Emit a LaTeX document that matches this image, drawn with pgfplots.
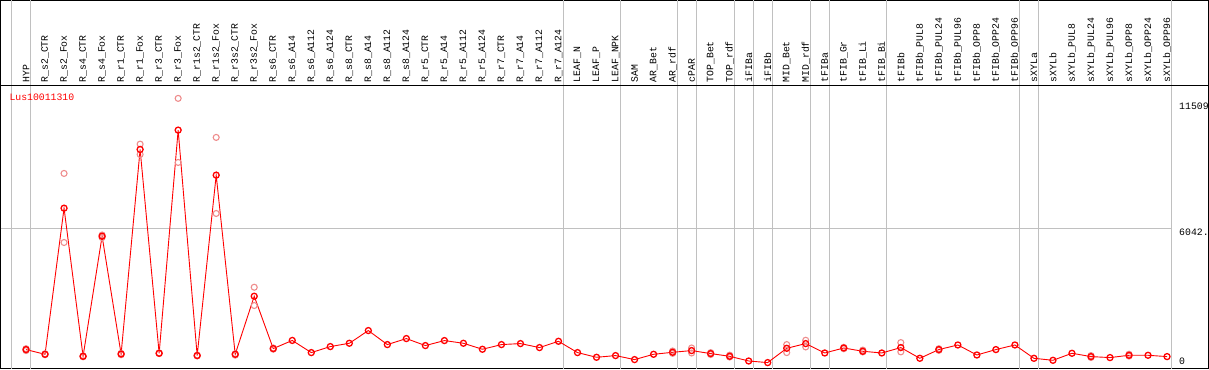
\documentclass[border=0pt]{standalone}
\usepackage{pgfplots}
\pgfplotsset{compat=1.18}
\usepackage{fontspec}
\setmainfont{Liberation Mono}
\definecolor{gridgray}{RGB}{192,192,192}
\definecolor{faint}{RGB}{238,140,140}
\newcommand\lf{\fontsize{9.8pt}{10pt}\selectfont}
\begin{document}
\begin{tikzpicture}
\begin{axis}[
  at={(0,0)}, anchor=south west,
  scale only axis, width=1207pt, height=368pt,
  xmin=-1.342, xmax=62.18, ymin=-52, ymax=15948,
  axis line style={black, line width=1pt},
  xtick={0,...,60},
  xticklabels={HYP,R\_s2\_CTR,R\_s2\_Fox,R\_s4\_CTR,R\_s4\_Fox,R\_r1\_CTR,R\_r1\_Fox,R\_r3\_CTR,R\_r3\_Fox,R\_r1s2\_CTR,R\_r1s2\_Fox,R\_r3s2\_CTR,R\_r3s2\_Fox,R\_s6\_CTR,R\_s6\_A14,R\_s6\_A112,R\_s6\_A124,R\_s8\_CTR,R\_s8\_A14,R\_s8\_A112,R\_s8\_A124,R\_r5\_CTR,R\_r5\_A14,R\_r5\_A112,R\_r5\_A124,R\_r7\_CTR,R\_r7\_A14,R\_r7\_A112,R\_r7\_A124,LEAF\_N,LEAF\_P,LEAF\_NPK,SAM,AR\_Bet,AR\_rdf,cPAR,TOP\_Bet,TOP\_rdf,iFIBa,iFIBb,MID\_Bet,MID\_rdf,tFIBa,tFIB\_Gr,tFIB\_Li,tFIB\_Bi,tFIBb,tFIBb\_PUL8,tFIBb\_PUL24,tFIBb\_PUL96,tFIBb\_OPP8,tFIBb\_OPP24,tFIBb\_OPP96,sXYLa,sXYLb,sXYLb\_PUL8,sXYLb\_PUL24,sXYLb\_PUL96,sXYLb\_OPP8,sXYLb\_OPP24,sXYLb\_OPP96},
  major tick length=0pt,
  xticklabel style={font=\lf, rotate=90, anchor=west, inner sep=0pt},
  xticklabel shift=-286pt,
  ytick=\empty,
  clip=false,
]
\pgfplotsinvokeforeach{-0.79,0.25,28.25,31.25,34.25,35.25,37.25,38.25,39.25,41.25,42.25,45.25,52.25,53.25,60.25}{
  \draw[gridgray, line width=0.8pt] (axis cs:#1,-52) -- (axis cs:#1,15948);
}
\draw[gridgray, line width=0.8pt] (axis cs:-1.342,6042) -- (axis cs:60.25,6042);
\draw[black, line width=1pt] (axis cs:-1.342,12252) -- (axis cs:62.18,12252);

\addplot[only marks, faint, mark=o, mark size=3pt, mark options={line width=1.1pt}] coordinates {
(0,740)(0,820)(1,560)(1,600)(2,8435)(2,5435)(3,470)(3,510)(4,5650)(4,5760)
(5,560)(5,620)(6,9709)(6,9261)(7,610)(7,640)(8,11696)(8,8913)(9,510)(9,540)
(10,10000)(10,6696)(11,540)(11,600)(12,3491)(12,2696)(13,800)(13,850)
(34,720)(34,620)(35,852)(35,635)(36,650)(36,570)(37,540)(37,460)
(40,1000)(40,652)(41,1187)(41,898)(43,880)(43,820)(44,760)(44,680)
(46,1087)(46,683)(48,820)(48,750)(56,520)(56,440)(58,580)(58,500)
};

\addplot[red, line width=0.9pt, mark=o, mark size=3pt, mark options={line width=1.3pt}] coordinates {
(0,783)(1,578)(2,6926)(3,491)(4,5709)(5,591)(6,9478)(7,622)(8,10317)(9,522)
(10,8361)(11,578)(12,3100)(13,826)(14,1180)(15,652)(16,913)(17,1057)(18,1609)(19,1000)
(20,1261)(21,957)(22,1174)(23,1057)(24,796)(25,1000)(26,1043)(27,870)(28,1143)(29,652)
(30,448)(31,522)(32,348)(33,578)(34,665)(35,739)(36,609)(37,491)(38,287)(39,217)
(40,839)(41,1043)(42,635)(43,852)(44,709)(45,635)(46,870)(47,404)(48,783)(49,983)
(50,548)(51,783)(52,983)(53,404)(54,317)(55,622)(56,478)(57,435)(58,535)(59,535)
(60,478)
};

\node[anchor=west, font=\lf, text=red, inner sep=0pt] at (axis cs:-0.879,11739) {Lus10011310};
\node[anchor=north west, font=\lf, inner sep=0pt] at (axis cs:60.63,11509) {11509};
\node[anchor=north west, font=\lf, inner sep=0pt] at (axis cs:60.63,6042) {6042.};
\node[anchor=south west, font=\lf, inner sep=0pt] at (axis cs:60.63,122) {0};
\end{axis}
\end{tikzpicture}
\end{document}
